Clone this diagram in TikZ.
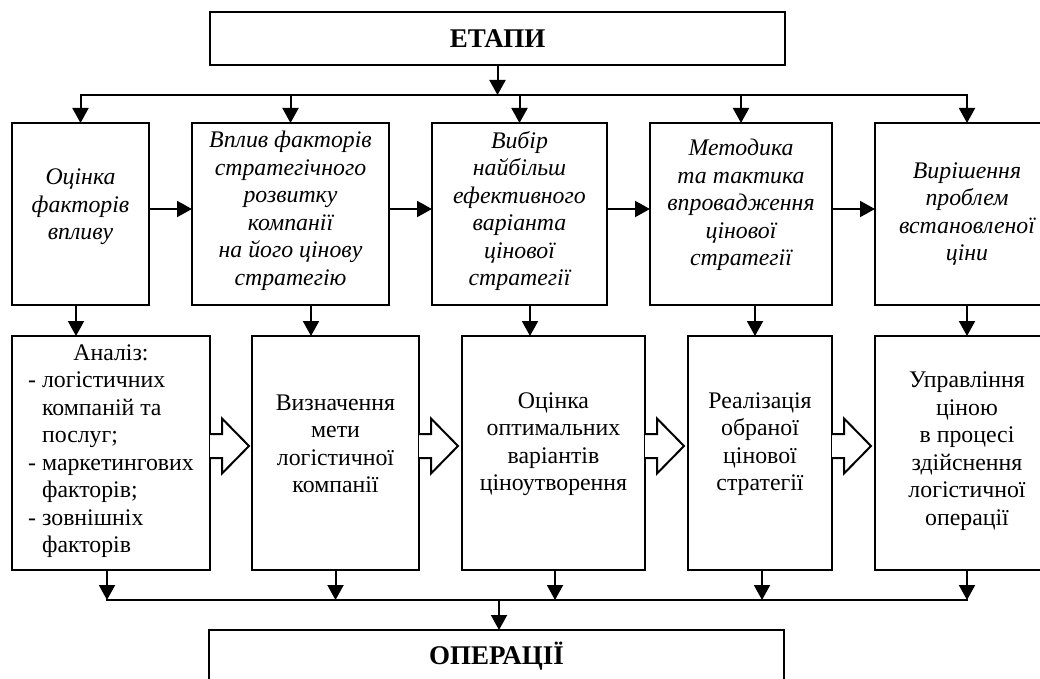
\documentclass[tikz,border=0pt]{standalone}
\usepackage{fontspec}
\setmainfont{Liberation Serif}
\usetikzlibrary{arrows.meta,calc}

\tikzset{
  box/.style={draw, line width=2pt, inner sep=0pt, outer sep=0pt},
  txt/.style={align=center, inner sep=0pt, font=\fontsize{23.8}{27.5}\selectfont},
  itxt/.style={align=center, inner sep=0pt, font=\fontsize{23.8}{27.5}\selectfont\itshape},
  head/.style={font=\fontsize{27}{30}\selectfont\bfseries},
  arr/.style={line width=2pt, -{Triangle[length=15pt,width=16pt]}},
  bus/.style={line width=2pt, line cap=rect},
  hollow/.pic={\draw[line width=2pt, fill=white] (0,-12) -- (12,-12) -- (12,-27.5) -- (39,0) -- (12,27.5) -- (12,12) -- (0,12);}
}

\begin{document}
\begin{tikzpicture}[x=1pt, y=-1pt]
    \useasboundingbox (0,0) rectangle (1040,679);
    \clip (0,0) rectangle (1040,679);

    % stages
    \node[box, head, minimum width=575, minimum height=53] (top) at (497.5,38.5) {ЕТАПИ};
    \node[box, minimum width=137, minimum height=182] (t1) at (80.5,214) {};
    \node[box, minimum width=197, minimum height=182] (t2) at (290.5,214) {};
    \node[box, minimum width=175, minimum height=182] (t3) at (519.5,214) {};
    \node[box, minimum width=182, minimum height=182] (t4) at (741,214) {};
    \node[box, minimum width=184, minimum height=182] (t5) at (967,214) {};
    \node[itxt] (t1x) at ([yshift=7pt]t1.center) {Оцінка\\факторів\\впливу};
    \node[itxt] (t2x) at ([yshift=3pt]t2.center) {Вплив факторів\\стратегічного\\розвитку\\компанії\\на його цінову\\стратегію};
    \node[itxt] (t3x) at ([yshift=3pt]t3.center) {Вибір\\найбільш\\ефективного\\варіанта\\цінової\\стратегії};
    \node[itxt] (t4x) at ([yshift=9pt]t4.center) {Методика\\та тактика\\впровадження\\цінової\\стратегії};
    \node[itxt] (t5x) at (t5.center) {Вирішення\\проблем\\встановленої\\ціни};

    % operations
    \node[box, minimum width=198, minimum height=234] (b1) at (111,453) {};
    \node[box, minimum width=167, minimum height=234] (b2) at (335.5,453) {};
    \node[box, minimum width=183, minimum height=234] (b3) at (553.5,453) {};
    \node[box, minimum width=144, minimum height=234] (b4) at (760,453) {};
    \node[box, minimum width=184, minimum height=234] (b5) at (967,453) {};
    \node[txt] (b1x) at ([yshift=2pt]b1.center) {\begin{tabular}{@{}l@{}}
        \multicolumn{1}{@{}c@{}}{Аналіз:}\\
        - логістичних\\
        \hphantom{-~}компаній та\\
        \hphantom{-~}послуг;\\
        - маркетингових\\
        \hphantom{-~}факторів;\\
        - зовнішніх\\
        \hphantom{-~}факторів
      \end{tabular}};
    \node[txt] (b2x) at ([yshift=9pt]b2.center) {Визначення\\мети\\логістичної\\компанії};
    \node[txt] (b3x) at ([yshift=9pt]b3.center) {Оцінка\\оптимальних\\варіантів\\ціноутворення};
    \node[txt] (b4x) at ([yshift=9pt]b4.center) {Реалізація\\обраної\\цінової\\стратегії};
    \node[txt] (b5x) at ([yshift=2pt]b5.center) {Управління\\ціною\\в процесі\\здійснення\\логістичної\\операції};
    \node[box, head, minimum width=575, minimum height=53] (bot) at (496.5,656.5) {ОПЕРАЦІЇ};

    % upper bus
    \coordinate (tb) at (0,95);
    \draw[arr] (top.south) -- (top.south |- tb);
    \draw[bus] (t1.north |- tb) -- (t5.north |- tb);
    \foreach \n in {t1,t2,t3,t4,t5}
        \draw[arr] (\n.north |- tb) -- (\n.north);

    % links between stages
    \foreach \a/\b in {t1/t2,t2/t3,t3/t4,t4/t5}
        \draw[arr] ([yshift=5pt]\a.east) -- ([yshift=5pt]\b.west);

    % stage to operation
    \foreach \a/\b/\s in {t1/b1/-4.5,t2/b2/20.5,t3/b3/10.5,t4/b4/14,t5/b5/0}
        \draw[arr] ([xshift=\s pt]\a.south) -- ([xshift=\s pt]\a.south |- \b.north);

    % hollow arrows
    \foreach \n in {b1,b2,b3,b4}
        \pic at ([yshift=7pt]\n.east) {hollow};

    % lower bus
    \coordinate (bb) at (0,600);
    \foreach \n/\s in {b1/-4,b2/0,b3/1.5,b4/2,b5/0}
        \draw[arr] ([xshift=\s pt]\n.south) -- ([xshift=\s pt]\n.south |- bb);
    \draw[bus] ([xshift=-4pt]b1.south |- bb) -- (b5.south |- bb);
    \draw[arr] ([xshift=2.5pt]bot.north |- bb) -- ([xshift=2.5pt]bot.north);
\end{tikzpicture}
\end{document}
